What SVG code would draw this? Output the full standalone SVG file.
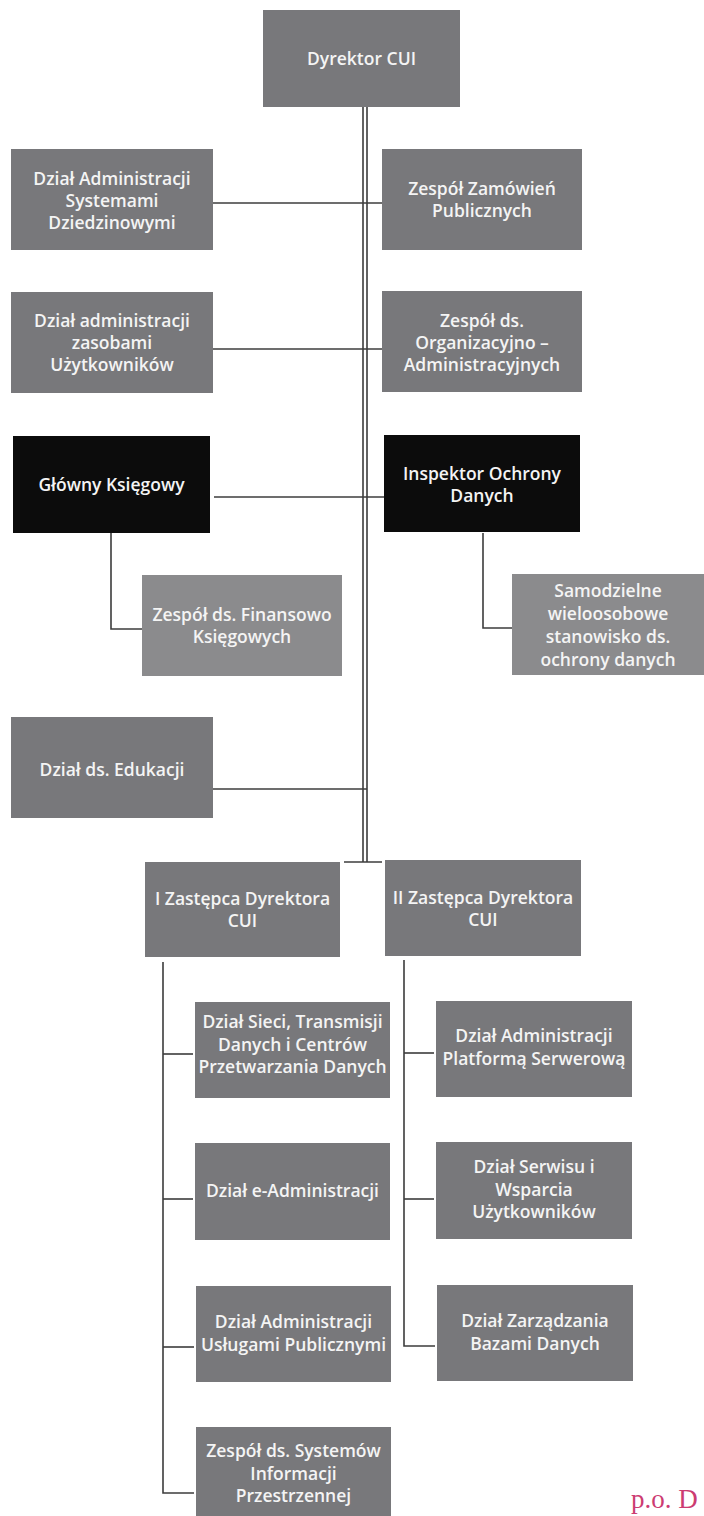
<svg xmlns="http://www.w3.org/2000/svg" width="704" height="1516" viewBox="0 0 704 1516">
<style>
.box{fill:#78787b}
.lt{fill:#8b8b8d}
.dk{fill:#0c0c0c}
.t{font-family:"Open Sans","Liberation Sans",Arial,sans-serif;font-size:17.5px;font-weight:600;fill:#f4f4f4;text-anchor:middle}
.c{stroke:#3c3c3c;stroke-width:1.6;fill:none}
.po{font-family:"Liberation Serif","Times New Roman",serif;font-size:27px;fill:#cc3c72}
</style>
<rect width="704" height="1516" fill="#ffffff"/>
<g id="connectors">
<line class="c" x1="363" y1="107" x2="363" y2="862"/>
<line class="c" x1="367" y1="107" x2="367" y2="862"/>
<line class="c" x1="213" y1="203" x2="382" y2="203"/>
<line class="c" x1="213" y1="349" x2="382" y2="349"/>
<line class="c" x1="214" y1="497" x2="384" y2="497"/>
<polyline class="c" points="111,533 111,629 142,629"/>
<polyline class="c" points="483,533 483,628 512,628"/>
<line class="c" x1="213" y1="789" x2="367" y2="789"/>
<line class="c" x1="344" y1="862" x2="382" y2="862"/>
<polyline class="c" points="163,962 163,1493 194,1493"/>
<line class="c" x1="163" y1="1054" x2="193" y2="1054"/>
<line class="c" x1="163" y1="1199" x2="193" y2="1199"/>
<line class="c" x1="163" y1="1347" x2="194" y2="1347"/>
<polyline class="c" points="404,960 404,1346 435,1346"/>
<line class="c" x1="404" y1="1053" x2="434" y2="1053"/>
<line class="c" x1="404" y1="1199" x2="434" y2="1199"/>
</g>
<g id="n-dyrektor"><rect class="box" x="263" y="10" width="197" height="97"/><text class="t" x="361.5" y="65">Dyrektor CUI</text></g>
<g id="n-dasd"><rect class="box" x="11" y="149" width="202" height="101"/><text class="t" x="112" y="185">Dział Administracji</text><text class="t" x="112" y="207">Systemami</text><text class="t" x="112" y="229">Dziedzinowymi</text></g>
<g id="n-zzp"><rect class="box" x="382" y="149" width="200" height="101"/><text class="t" x="482" y="195">Zespół Zamówień</text><text class="t" x="482" y="217">Publicznych</text></g>
<g id="n-dazu"><rect class="box" x="11" y="292" width="202" height="101"/><text class="t" x="112" y="327">Dział administracji</text><text class="t" x="112" y="349">zasobami</text><text class="t" x="112" y="371">Użytkowników</text></g>
<g id="n-zoa"><rect class="box" x="382" y="291" width="200" height="101"/><text class="t" x="482" y="327">Zespół ds.</text><text class="t" x="482" y="349">Organizacyjno –</text><text class="t" x="482" y="371">Administracyjnych</text></g>
<g id="n-gk"><rect class="dk" x="13" y="436" width="197" height="97"/><text class="t" x="111.5" y="491">Główny Księgowy</text></g>
<g id="n-iod"><rect class="dk" x="384" y="435" width="196" height="97"/><text class="t" x="482" y="480">Inspektor Ochrony</text><text class="t" x="482" y="502">Danych</text></g>
<g id="n-zfk"><rect class="lt" x="142" y="575" width="200" height="101"/><text class="t" x="242" y="621">Zespół ds. Finansowo</text><text class="t" x="242" y="643">Księgowych</text></g>
<g id="n-swso"><rect class="lt" x="512" y="574" width="192" height="101"/><text class="t" x="608" y="597">Samodzielne</text><text class="t" x="608" y="620">wieloosobowe</text><text class="t" x="608" y="643">stanowisko ds.</text><text class="t" x="608" y="666">ochrony danych</text></g>
<g id="n-de"><rect class="box" x="11" y="717" width="202" height="101"/><text class="t" x="112" y="776">Dział ds. Edukacji</text></g>
<g id="n-z1"><rect class="box" x="145" y="862" width="195" height="95"/><text class="t" x="242.5" y="905">I Zastępca Dyrektora</text><text class="t" x="242.5" y="927">CUI</text></g>
<g id="n-z2"><rect class="box" x="385" y="860" width="196" height="96"/><text class="t" x="483" y="904">II Zastępca Dyrektora</text><text class="t" x="483" y="926">CUI</text></g>
<g id="n-dst"><rect class="box" x="195" y="1002" width="195" height="96"/><text class="t" x="292.5" y="1028">Dział Sieci, Transmisji</text><text class="t" x="292.5" y="1050.5">Danych i Centrów</text><text class="t" x="292.5" y="1073">Przetwarzania Danych</text></g>
<g id="n-daps"><rect class="box" x="436" y="1001" width="196" height="96"/><text class="t" x="534" y="1042">Dział Administracji</text><text class="t" x="534" y="1064.5">Platformą Serwerową</text></g>
<g id="n-dea"><rect class="box" x="195" y="1143" width="195" height="97"/><text class="t" x="292.5" y="1197">Dział e-Administracji</text></g>
<g id="n-dswu"><rect class="box" x="436" y="1142" width="196" height="97"/><text class="t" x="534" y="1173">Dział Serwisu i</text><text class="t" x="534" y="1195.5">Wsparcia</text><text class="t" x="534" y="1218">Użytkowników</text></g>
<g id="n-daup"><rect class="box" x="196" y="1286" width="195" height="96"/><text class="t" x="293.5" y="1328">Dział Administracji</text><text class="t" x="293.5" y="1350.5">Usługami Publicznymi</text></g>
<g id="n-dzbd"><rect class="box" x="437" y="1285" width="196" height="96"/><text class="t" x="535" y="1327">Dział Zarządzania</text><text class="t" x="535" y="1349.5">Bazami Danych</text></g>
<g id="n-zsip"><rect class="box" x="196" y="1427" width="195" height="95"/><text class="t" x="293.5" y="1457">Zespół ds. Systemów</text><text class="t" x="293.5" y="1479.5">Informacji</text><text class="t" x="293.5" y="1502">Przestrzennej</text></g>
<text class="po" x="631" y="1508">p.o. D</text>
</svg>
